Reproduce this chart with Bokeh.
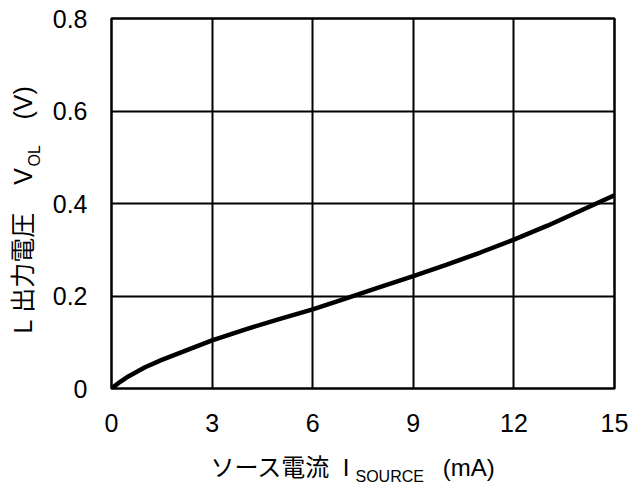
import math
from bokeh.plotting import figure
from bokeh.models import Range1d, FixedTicker, Label
from bokeh.embed import file_html
from bokeh.resources import INLINE

# data
current_ma = [0, 0.25, 0.5, 1, 1.5, 2, 3, 4, 5, 6, 7, 8, 9, 10, 11, 12, 13, 14, 15]
vol = [0, 0.014, 0.026, 0.046, 0.062, 0.076, 0.104, 0.128, 0.150, 0.171, 0.195,
       0.219, 0.243, 0.268, 0.294, 0.322, 0.352, 0.385, 0.418]
x_ticks = [0, 3, 6, 9, 12, 15]
y_ticks = [0, 0.2, 0.4, 0.6, 0.8]
y_tick_labels = ["0", "0.2", "0.4", "0.6", "0.8"]

LAT = "Liberation Sans"
MIX = "Liberation Sans, Noto Sans CJK JP"
NB = "\u00a0"

p = figure(width=643, height=486, output_backend="svg", toolbar_location=None,
           x_range=Range1d(0, 15), y_range=Range1d(0, 0.8),
           min_border_left=111, min_border_right=29, min_border_top=18,
           min_border_bottom=98)
p.background_fill_color = "white"
p.border_fill_color = "white"
p.outline_line_color = "black"
p.outline_line_width = 2.5

p.xaxis.ticker = FixedTicker(ticks=x_ticks)
p.yaxis.ticker = FixedTicker(ticks=y_ticks)
p.yaxis.major_label_overrides = {t: s for t, s in zip(y_ticks, y_tick_labels)}
for ax in (p.xaxis, p.yaxis):
    ax.axis_line_color = None
    ax.major_tick_in = 0
    ax.major_tick_out = 0
    ax.minor_tick_in = 0
    ax.minor_tick_out = 0
    ax.major_label_text_font = LAT
    ax.major_label_text_font_size = "25px"
    ax.major_label_text_color = "black"
p.xaxis.major_label_standoff = 25
p.yaxis.major_label_standoff = 24

p.xgrid.ticker = FixedTicker(ticks=x_ticks)
p.ygrid.ticker = FixedTicker(ticks=y_ticks)
for g in (p.xgrid, p.ygrid):
    g.grid_line_color = "black"
    g.grid_line_width = 2

p.line(current_ma, vol, line_color="black", line_width=4.5)


def lab(text, xo, yo, size, font, side, angle=0):
    # labels sit in side panels so that they are not clipped to the frame;
    # their position is still taken from the data origin plus pixel offsets
    p.add_layout(Label(x=0, y=0, x_offset=xo, y_offset=yo, text=text,
                       text_font=font, text_font_size=size, text_color="black",
                       text_align="left", text_baseline="alphabetic", angle=angle),
                 side)


# x label: ソース電流  I_SOURCE  (mA)
lab("ソース電流" + NB * 2 + "I" + NB * 14 + "(mA)", 99, -79, "24px", MIX, "below")
lab("SOURCE", 244, -88, "16px", LAT, "above")

# y label (rotated): L 出力電圧  V_OL  (V)
a = math.pi / 2
lab("L" + NB + "出力電圧" + NB * 4 + "V" + NB * 7 + "(V)", -89, 55, "25px", MIX, "left", angle=a)
lab("OL", -77, 222, "16px", LAT, "right", angle=a)

open("out.html", "w").write(file_html(p, INLINE))
